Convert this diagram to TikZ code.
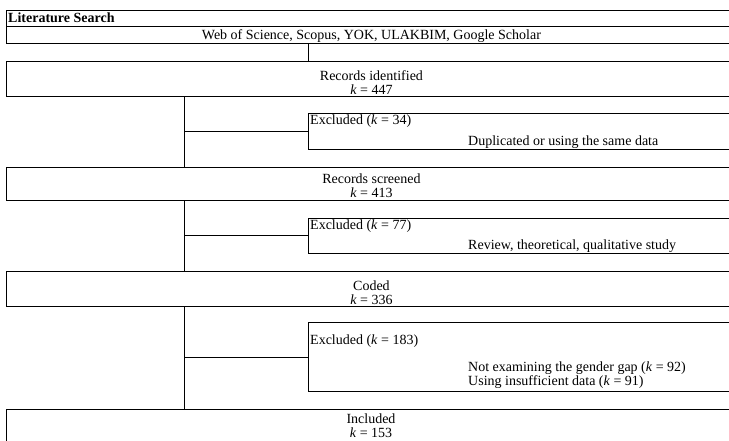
\documentclass[tikz,border=0pt]{standalone}
\usepackage{fontspec}
\setmainfont{Liberation Serif}
\usetikzlibrary{positioning}

\newcommand{\kk}{\textit{k}}

\begin{document}
\begin{tikzpicture}[x=1pt,y=-1pt]
  \useasboundingbox (0,0) rectangle (729,441);
  \clip (0,0) rectangle (729,441);
  % boxes (right side runs off the page)
  \begin{scope}[every node/.style = {rectangle, draw, line width=0.9pt,
      anchor=north west, inner sep=0pt, minimum width=730pt}]
    \node[minimum height=16pt] (S) at (6,10) {};
    \node[minimum height=17pt] (W) at (6,26) {};
    \node[minimum height=35pt] (I) at (6,61) {};
    \node[minimum height=36pt, minimum width=500pt] (E1) at (308,113) {};
    \node[minimum height=33pt] (R) at (6,167) {};
    \node[minimum height=35pt, minimum width=500pt] (E2) at (308,218) {};
    \node[minimum height=35pt] (C) at (6,271) {};
    \node[minimum height=69pt, minimum width=500pt] (E3) at (308,322) {};
    \node[minimum height=40pt] (N) at (6,409) {};
  \end{scope}
  \coordinate (T) at (184,0);
  \coordinate (U) at (308,0);
  % texts
  \begin{scope}[every node/.style = {inner sep=0pt, align=center,
      font=\fontsize{14}{14}\selectfont}]
    \node[anchor=west] (St) at (8,18) {\textbf{Literature Search}};
    \node (Wt) at ([yshift=-1.5pt]W.center) {Web of Science, Scopus, YOK, ULAKBIM, Google Scholar};
    \node (It) at ([yshift=-4pt]I.center) {Records identified\\\kk{} = 447};
    \node (Rt) at ([yshift=-1.5pt]R.center) {Records screened\\\kk{} = 413};
    \node (Ct) at ([yshift=-4pt]C.center) {Coded\\\kk{} = 336};
    \node[anchor=south] (Nt) at (371,437.5) {Included\\\kk{} = 153};
    \node[anchor=west] (E1a) at (310,121) {Excluded (\kk{} = 34)};
    \node[anchor=west] (E1b) at (468,142) {Duplicated or using the same data};
    \node[anchor=west] (E2a) at (310,226) {Excluded (\kk{} = 77)};
    \node[anchor=west] (E2b) at (468,246) {Review, theoretical, qualitative study};
    \node[anchor=west] (E3a) at (310,341) {Excluded (\kk{} = 183)};
    \node[anchor=west, align=left] (E3b) at (468,375) {Not examining the gender gap (\kk{} = 92)\\Using insufficient data (\kk{} = 91)};
  \end{scope}
  % connectors
  \begin{scope}[every edge/.style={draw=black, line width=0.9pt}]
    \path [-] (W.south -| U) edge (I.north -| U);
    \path [-] (I.south -| T) edge (R.north -| T);
    \path [-] (R.south -| T) edge (C.north -| T);
    \path [-] (C.south -| T) edge (N.north -| T);
    \path [-] (E1.west -| T) edge (E1.west);
    \path [-] (E2.west -| T) edge (E2.west);
    \path [-] (E3.west -| T) edge (E3.west);
  \end{scope}
\end{tikzpicture}
\end{document}
